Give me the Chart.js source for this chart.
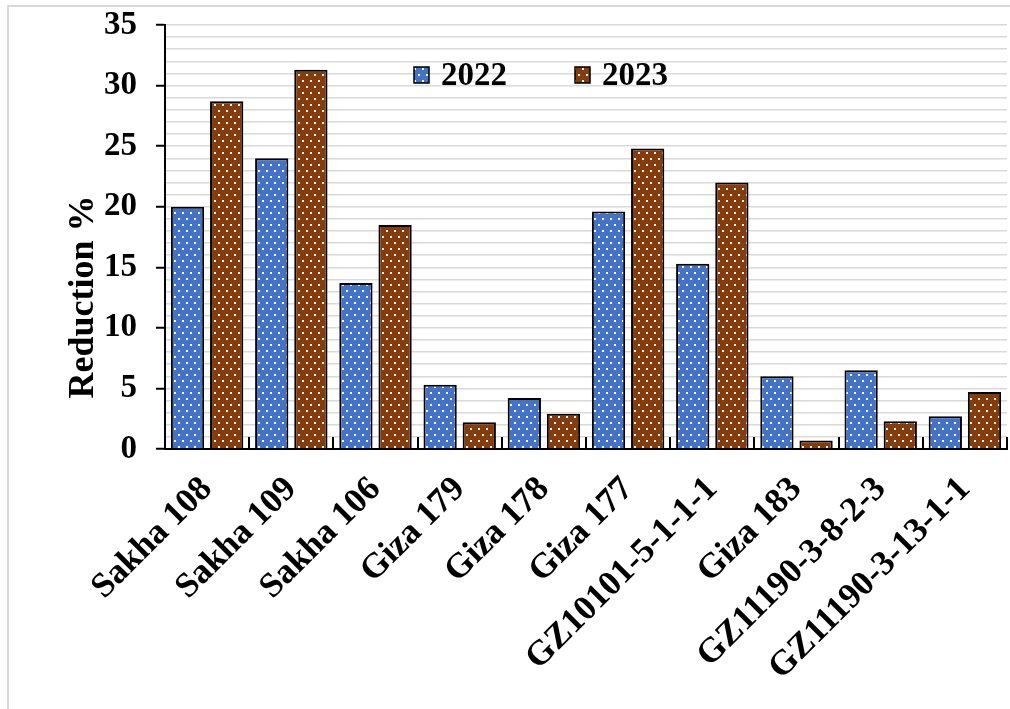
<!DOCTYPE html>
<html>
<head>
<meta charset="utf-8">
<script src="https://cdn.jsdelivr.net/npm/chart.js@4.4.1/dist/chart.umd.min.js"></script>
<style>
  html, body { margin: 0; padding: 0; background: #fff; }
  #wrap { position: relative; width: 1010px; height: 709px; overflow: hidden; }
  #frame { position: absolute; left: 7px; top: 5px; width: 1100px; height: 800px;
           border-left: 2px solid #d9d9d9; border-top: 2px solid #d9d9d9; }
  canvas { position: absolute; left: 0; top: 0; }
</style>
</head>
<body>
<div id="wrap">
  <div id="frame"></div>
  <canvas id="chart" width="1010" height="709"></canvas>
</div>
<script>
const categories = ['Sakha 108', 'Sakha 109', 'Sakha 106', 'Giza 179', 'Giza 178', 'Giza 177',
                    'GZ10101-5-1-1-1', 'Giza 183', 'GZ11190-3-8-2-3', 'GZ11190-3-13-1-1'];
const seriesLabels = ['2022', '2023'];
const values2022 = [20.0, 24.0, 13.7, 5.3, 4.2, 19.6, 15.3, 6.0, 6.5, 2.7];
const values2023 = [28.7, 31.3, 18.5, 2.2, 2.9, 24.8, 22.0, 0.7, 2.3, 4.7];
const yMax = 35;
const yTickStep = 5;
const yAxisTitle = 'Reduction %';

const FONT = '"Liberation Serif", "Times New Roman", serif';

// dotted fill: solid colour with a staggered grid of small white dots
function dottedPattern(color) {
  const c = document.createElement('canvas');
  c.width = 8; c.height = 12;
  const g = c.getContext('2d');
  g.fillStyle = color;
  g.fillRect(0, 0, 8, 12);
  g.fillStyle = 'rgba(255,255,255,0.95)';
  g.fillRect(2, 2, 2, 2);
  g.fillRect(6, 8, 2, 2);
  return g.createPattern(c, 'repeat');
}
const fill2022 = dottedPattern('#4472c4');
const fill2023 = dottedPattern('#843c0c');

// small upward tick marks on the category boundaries of the x axis
const categoryTicks = {
  id: 'categoryTicks',
  afterDatasetsDraw(chart) {
    const x = chart.scales.x, ctx = chart.ctx;
    const n = x.ticks.length;
    const half = (x.getPixelForTick(1) - x.getPixelForTick(0)) / 2;
    ctx.save();
    ctx.strokeStyle = '#000';
    ctx.lineWidth = 2;
    for (let i = 1; i <= n; i++) {
      const px = Math.round(x.getPixelForTick(i - 1) + half);
      ctx.beginPath();
      ctx.moveTo(px, x.top);
      ctx.lineTo(px, x.top - 12);
      ctx.stroke();
    }
    ctx.restore();
  }
};

// legend drawn inside the plot area
const innerLegend = {
  id: 'innerLegend',
  afterDraw(chart) {
    const ctx = chart.ctx, area = chart.chartArea;
    const startX = area.left + 249, cy = area.top + 50, step = 161;
    ctx.save();
    ctx.font = 'bold 33px ' + FONT;
    ctx.textBaseline = 'middle';
    ctx.textAlign = 'left';
    chart.data.datasets.forEach((ds, i) => {
      const bx = startX + i * step;
      ctx.fillStyle = ds.backgroundColor;
      ctx.fillRect(bx, cy - 8, 15, 16);
      ctx.strokeStyle = '#000';
      ctx.lineWidth = 1.5;
      ctx.strokeRect(bx, cy - 8, 15, 16);
      ctx.fillStyle = '#000';
      ctx.fillText(ds.label, bx + 27, cy + 1);
    });
    ctx.restore();
  }
};

// rotated y-axis title
const yTitle = {
  id: 'yTitle',
  afterDraw(chart) {
    const ctx = chart.ctx, area = chart.chartArea;
    ctx.save();
    ctx.translate(area.left - 81, area.bottom - 152);
    ctx.rotate(-Math.PI / 2);
    ctx.font = 'bold 36px ' + FONT;
    ctx.fillStyle = '#000';
    ctx.textAlign = 'center';
    ctx.textBaseline = 'middle';
    ctx.fillText(yAxisTitle, 0, 0);
    ctx.restore();
  }
};

new Chart(document.getElementById('chart'), {
  type: 'bar',
  data: {
    labels: categories,
    datasets: [
      { label: seriesLabels[0], data: values2022, backgroundColor: fill2022,
        borderColor: '#000', borderWidth: 2 },
      { label: seriesLabels[1], data: values2023, backgroundColor: fill2023,
        borderColor: '#000', borderWidth: 2 }
    ]
  },
  options: {
    responsive: false,
    animation: false,
    devicePixelRatio: 1,
    layout: { padding: { top: 25, right: 3, bottom: 0, left: 0 } },
    datasets: { bar: { categoryPercentage: 0.93, barPercentage: 0.85 } },
    plugins: { legend: { display: false }, tooltip: { enabled: false } },
    scales: {
      x: {
        afterFit(scale) {
          scale.height = 260;
          scale.paddingLeft = 0; scale.paddingRight = 0;
        },
        grid: { display: true, drawOnChartArea: false, drawTicks: false },
        border: { color: '#000', width: 2 },
        ticks: {
          autoSkip: false, minRotation: 45, maxRotation: 45, padding: 20,
          color: '#000', font: { family: FONT, size: 35, weight: 'bold' }
        }
      },
      y: {
        min: 0, max: yMax,
        afterFit(scale) {
          scale.width = 165;
          scale.paddingTop = 0; scale.paddingBottom = 0;
        },
        border: { color: '#000', width: 2 },
        grid: {
          color: '#d9d9d9', lineWidth: 1.5,
          tickLength: 9, tickWidth: 2,
          tickColor: (c) => (c.tick && c.tick.value % yTickStep === 0) ? '#000' : 'rgba(0,0,0,0)'
        },
        ticks: {
          stepSize: 1, autoSkip: false, padding: 19, color: '#000',
          font: { family: FONT, size: 33, weight: 'bold' },
          callback: (v) => (v % yTickStep === 0 ? v : '')
        }
      }
    }
  },
  plugins: [categoryTicks, innerLegend, yTitle]
});
</script>
</body>
</html>
